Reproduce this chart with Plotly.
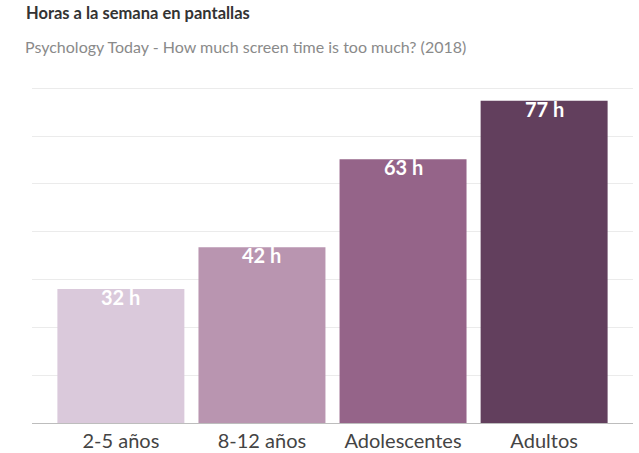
import plotly.graph_objects as go

categories = ["2-5 años", "8-12 años", "Adolescentes", "Adultos"]
hours = [32, 42, 63, 77]
bar_colors = ["#dac9db", "#b995b0", "#956489", "#623f5d"]
value_labels = [f"{v} h" for v in hours]

title_text = "Horas a la semana en pantallas"
subtitle_text = "Psychology Today - How much screen time is too much? (2018)"

W, H = 639, 453
ymax = 80            # top gridline value
yrange_top = 81      # axis range top (a bit above top gridline)
scale = (423 - 88) / ymax   # px per hour
L, R, B = 32, 6, 30
T = round(423 - yrange_top * scale)
pw = W - L - R
ph = H - T - B

def px_x(x):
    return (x - L) / pw

def px_y(y):
    return (H - B - y) / ph

fig = go.Figure()
fig.add_trace(go.Bar(
    x=categories,
    y=hours,
    marker=dict(color=bar_colors, line=dict(width=0)),
    hoverinfo="x+y",
))

annotations = [
    dict(x=c, y=v, text=t, xref="x", yref="y", yanchor="top", xanchor="center",
         yshift=6, showarrow=False,
         font=dict(family="Lato", size=20, color="white", weight="bold"))
    for c, v, t in zip(categories, hours, value_labels)
]
annotations += [
    dict(text=title_text, xref="paper", yref="paper",
         x=px_x(24), y=px_y(13), xanchor="left", yanchor="middle",
         showarrow=False,
         font=dict(family="Lato", size=16.5, color="#333333", weight="bold")),
    dict(text=subtitle_text, xref="paper", yref="paper",
         x=px_x(23), y=px_y(47), xanchor="left", yanchor="middle",
         showarrow=False,
         font=dict(family="Lato", size=16, color="#8a8a8a")),
]

fig.update_layout(
    width=W, height=H,
    margin=dict(l=L, r=R, t=T, b=B, autoexpand=False),
    plot_bgcolor="white", paper_bgcolor="white",
    bargap=0.1,
    showlegend=False,
    font=dict(family="Lato"),
    xaxis=dict(
        range=[-0.63, 3.63],
        automargin=False,
        showgrid=False,
        showline=True, linecolor="#bdbdbd", linewidth=1,
        ticks="",
        tickfont=dict(family="Lato", size=20, color="#444444"),
    ),
    yaxis=dict(
        range=[0, yrange_top],
        automargin=False,
        tickvals=[i * ymax / 7 for i in range(1, 8)],
        showticklabels=False,
        showgrid=True, gridcolor="#ebebeb", gridwidth=1,
        zeroline=False,
    ),
    annotations=annotations,
)

fig.write_html("out.html", config={"displayModeBar": False},
               post_script="document.body.style.margin='0';")
